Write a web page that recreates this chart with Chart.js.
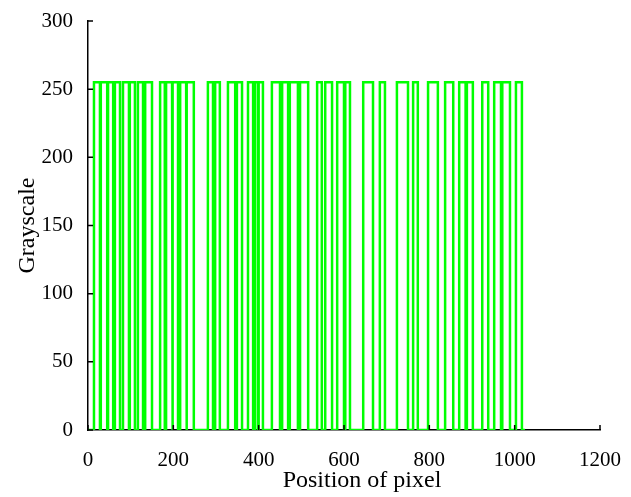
<!DOCTYPE html>
<html lang="en">
<head>
    <meta charset="UTF-8">
    <title>Grayscale profile</title>
    <script src="https://cdn.jsdelivr.net/npm/chart.js"></script>
    <style>
        body {
            margin: 0;
            padding: 0;
            background-color: #fff;
        }
        .chart-container {
            width: 631px;
            height: 497px;
        }
    </style>
</head>
<body>
    <div class="chart-container">
        <canvas id="grayChart"></canvas>
    </div>
    <script>
        // pulse edges (pixel position)
        const pulseStart = [14, 30, 47, 63, 82, 98, 117, 134, 169, 183, 199, 216, 232, 281, 298, 328, 349, 375, 391, 400,
            431, 455, 473, 497, 537, 556, 584, 603, 645, 684, 724, 762, 797, 837, 870, 888, 924, 952, 971, 1003];
        const pulseEnd = [28, 45, 59, 75, 96, 110, 129, 150, 180, 197, 211, 230, 248, 293, 309, 345, 361, 387, 398, 410,
            450, 469, 492, 516, 548, 572, 600, 614, 668, 696, 750, 773, 820, 856, 885, 902, 938, 968, 989, 1017];
        const highLevel = 255;
        const lineStart = 0;
        const lineEnd = 1024;
        const xTicks = [0, 200, 400, 600, 800, 1000, 1200];
        const yTicks = [0, 50, 100, 150, 200, 250, 300];

        // build step points from the pulse edges
        const points = [{ x: lineStart, y: 0 }];
        pulseStart.forEach((s, i) => {
            points.push({ x: s, y: 0 }, { x: s, y: highLevel }, { x: pulseEnd[i], y: highLevel }, { x: pulseEnd[i], y: 0 });
        });
        points.push({ x: lineEnd, y: 0 });

        // inward tick marks
        const innerTicks = {
            id: 'innerTicks',
            afterDraw(chart) {
                const ctx = chart.ctx;
                const xs = chart.scales.x, ys = chart.scales.y;
                const a = chart.chartArea;
                ctx.save();
                ctx.strokeStyle = '#000';
                ctx.lineWidth = 1.5;
                ctx.beginPath();
                xTicks.forEach(v => {
                    const px = xs.getPixelForValue(v);
                    ctx.moveTo(px, a.bottom);
                    ctx.lineTo(px, a.bottom - 5);
                });
                yTicks.forEach(v => {
                    const py = ys.getPixelForValue(v);
                    ctx.moveTo(a.left, py);
                    ctx.lineTo(a.left + 5, py);
                });
                ctx.stroke();
                ctx.restore();
            }
        };

        const font = { family: '"Liberation Serif", "Times New Roman", serif', size: 21 };
        const titleFont = { family: '"Liberation Serif", "Times New Roman", serif', size: 24 };

        new Chart(document.getElementById('grayChart').getContext('2d'), {
            type: 'line',
            data: {
                datasets: [{
                    data: points,
                    borderColor: '#00ff00',
                    borderWidth: 2.5,
                    pointRadius: 0,
                    tension: 0,
                    fill: false
                }]
            },
            options: {
                responsive: true,
                maintainAspectRatio: false,
                animation: false,
                layout: { padding: { top: 21, right: 31, left: 13, bottom: 2 } },
                plugins: { legend: { display: false }, tooltip: { enabled: false } },
                scales: {
                    x: {
                        type: 'linear',
                        min: 0,
                        max: 1200,
                        afterBuildTicks: s => { s.ticks = xTicks.map(v => ({ value: v })); },
                        afterFit: s => { s.height = 65; s.paddingRight = 0; s.paddingLeft = 0; },
                        grid: { display: false, drawTicks: false },
                        border: { color: '#000', width: 1.5 },
                        ticks: { color: '#000', font: font, padding: 18, maxRotation: 0, callback: v => String(v) },
                        title: { display: true, text: '\u00a0\u00a0\u00a0\u00a0\u00a0\u00a0Position of pixel', color: '#000', font: titleFont, padding: 0 }
                    },
                    y: {
                        min: 0,
                        max: 300,
                        afterBuildTicks: s => { s.ticks = yTicks.map(v => ({ value: v })); },
                        afterFit: s => { s.width = 75; s.paddingTop = 0; s.paddingBottom = 0; },
                        grid: { display: false, drawTicks: false },
                        border: { color: '#000', width: 1.5 },
                        ticks: { color: '#000', font: font, padding: 15, callback: v => String(v) },
                        title: { display: true, text: 'Grayscale', color: '#000', font: titleFont, padding: 0 }
                    }
                }
            },
            plugins: [innerTicks]
        });
    </script>
</body>
</html>
